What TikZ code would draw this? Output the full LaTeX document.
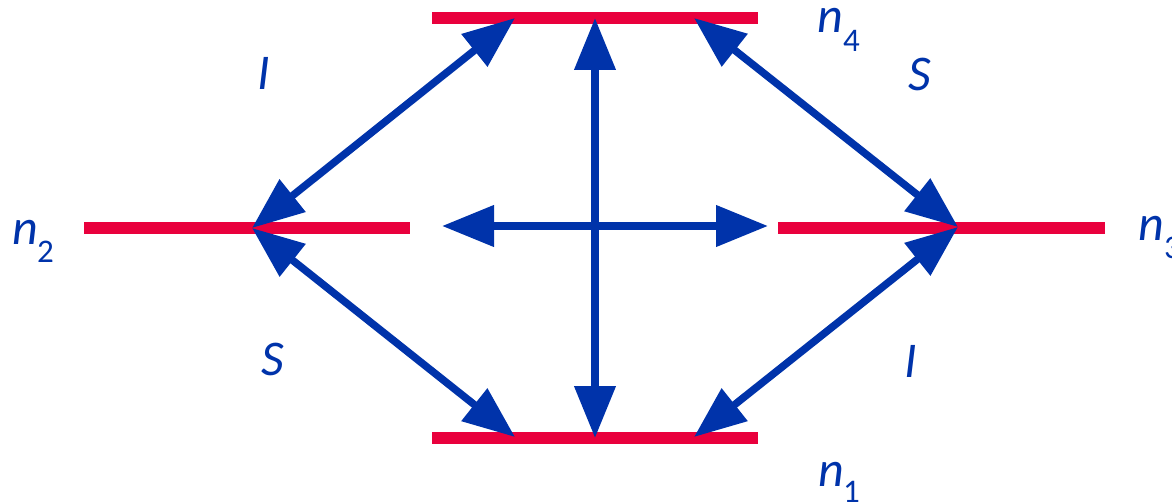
\documentclass[tikz,border=0pt]{standalone}
\usepackage{fontspec}
\setmainfont{Carlito}
\usetikzlibrary{arrows.meta}
\definecolor{lvred}{RGB}{233,0,61}
\definecolor{arrblue}{RGB}{0,51,170}
\begin{document}
\begin{tikzpicture}[x=1pt,y=-1pt,
  level/.style={draw=lvred,line width=11.5pt},
  trans/.style={draw=arrblue,line width=7.5pt,
    {Triangle[length=52pt,width=40pt]}-{Triangle[length=52pt,width=40pt]}},
  lab/.style={text=arrblue,inner sep=0pt,anchor=base west,
    font=\fontsize{50}{60}\selectfont\itshape},
  sub/.style={text=arrblue,inner sep=0pt,anchor=base west,
    font=\fontsize{33}{40}\selectfont}]
\useasboundingbox (0,0) rectangle (1172,503);
% level lines
\coordinate (t1) at (432,18);   \coordinate (t2) at (758,18);
\coordinate (b1) at (432,438);  \coordinate (b2) at (758,438);
\coordinate (l1) at (84,228);   \coordinate (l2) at (410,228);
\coordinate (r1) at (778,228);  \coordinate (r2) at (1105,228);
\draw[level] (t1) -- (t2);
\draw[level] (b1) -- (b2);
\draw[level] (l1) -- (l2);
\draw[level] (r1) -- (r2);
% arrow end points
\coordinate (L) at (252,228);
\coordinate (R) at (958,227);
\coordinate (TL) at (515,18);
\coordinate (TR) at (694,18);
\coordinate (BL) at (515,437);
\coordinate (BR) at (694,437);
\coordinate (TM) at (595,18);
\coordinate (BM) at (595,438);
\coordinate (HL) at (442,226);
\coordinate (HR) at (768,226);
\draw[trans] (L) -- (TL);
\draw[trans] (L) -- (BL);
\draw[trans] (R) -- (TR);
\draw[trans] (R) -- (BR);
\draw[trans] (TM) -- (BM);
\draw[trans] (HL) -- (HR);
% labels
\node[lab] (I1) at (257,89) {I};
\node[lab] (S1) at (261,375) {S};
\node[lab] (S2) at (908,90) {S};
\node[lab] (I2) at (904,377) {I};
\node[lab] (n4) at (817,33) {n};
\node[sub] (n4s) at (843,52) {4};
\node[lab] (n2) at (12,244) {n};
\node[sub] (n2s) at (37,262) {2};
\node[lab] (n1) at (818,486) {n};
\node[sub] (n1s) at (843,502) {1};
\node[lab] (n3) at (1138,240) {n};
\node[sub] (n3s) at (1164,258) {3};
\end{tikzpicture}
\end{document}
